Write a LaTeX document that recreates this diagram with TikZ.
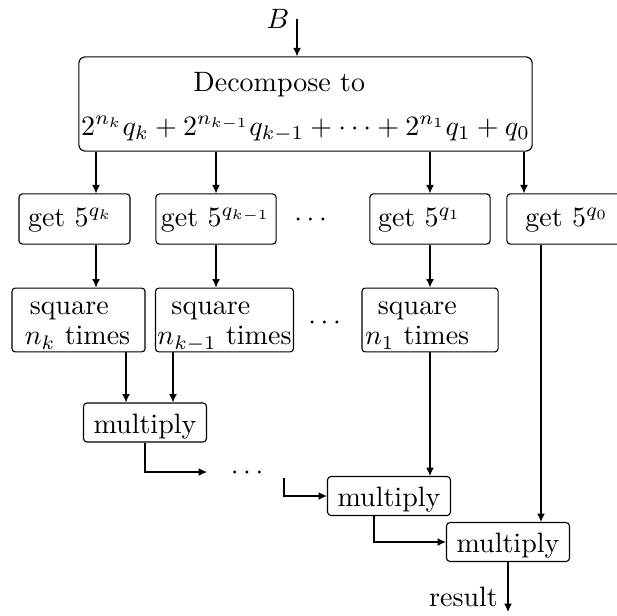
\documentclass[tikz,border=0pt]{standalone}
\usepackage{amsmath,amssymb}
\usetikzlibrary{arrows.meta}

\tikzset{
  box/.style={draw, rounded corners=1.2pt, inner sep=0pt},
  getbox/.style={box, text height=11.8pt, text depth=6.1pt, align=left},
  sqbox/.style={box, align=left},
  mulbox/.style={box, inner xsep=3.6pt, text height=10.7pt, text depth=3.2pt},
}

\begin{document}
\begin{tikzpicture}[x=0.357pt, y=-0.357pt, >={Latex[length=3pt,width=2.8pt]}]
  \clip (0,0) rectangle (617,615);
  % input
  \node (B) at (278,19) {$B$};
  \coordinate (bin) at (297,19);
  % decomposition
  \node[box, rounded corners=2.2pt, minimum width=161.8pt, align=center] (dec) at (305.5,104)
    {\rule{0pt}{12.5pt}\makebox[80pt][l]{Decompose to}\\[3.4pt]
     $2^{n_k}q_k+2^{n_{k-1}}q_{k-1}+\cdots+2^{n_1}q_1+q_0$\rule[-5.7pt]{0pt}{5.7pt}};
  % lanes
  \coordinate (colk) at (96,0);
  \coordinate (colkm) at (216,0);
  \coordinate (colone) at (430,0);
  \coordinate (colzero) at (524,0);
  \coordinate (la) at (126,0);
  \coordinate (lb) at (173,0);
  \coordinate (lc) at (541,0);
  \coordinate (ld) at (374,0);
  % powers of 5
  \node[getbox, inner xsep=3.2pt, text width=33.2pt] (getk) at (74.5,219) {get $5^{q_k}$};
  \node[getbox, inner xsep=1.8pt, text width=39.3pt] (getkm) at (216,219) {get $5^{q_{k-1}}$};
  \node (dotsa) at (313,220) {$\cdots$};
  \node[getbox, inner xsep=2.9pt, text width=37.1pt] (getone) at (430,219) {get $5^{q_1}$};
  \node[getbox, minimum width=42.9pt, align=center] (getzero) at (567,219) {get $5^{q_0}$};
  % squaring
  \node[sqbox, inner xsep=4.6pt, text width=38.3pt] (sqk) at (78.5,320)
    {\rule{0pt}{9.6pt}\hspace*{1.8pt}square\\[-1.3pt]$n_k$ times\rule[-2.5pt]{0pt}{2.5pt}};
  \node[sqbox, inner xsep=0.7pt, minimum width=48.9pt] (sqkm) at (224.5,320)
    {\rule{0pt}{9.6pt}\hspace*{5pt}square\\[-1.3pt]$n_{k-1}$ times\rule[-2.5pt]{0pt}{2.5pt}};
  \node (dotsb) at (327,323) {$\cdots$};
  \node[sqbox, inner xsep=1.1pt, text width=46.4pt] (sqone) at (430,320)
    {\rule{0pt}{9.6pt}\hspace*{4.6pt}square\\[-1.3pt]$n_1$ times\rule[-2.5pt]{0pt}{2.5pt}};
  % multiplying
  \node[mulbox] (mula) at (145,422.5) {multiply};
  \node (dotsc) at (249.5,473) {$\cdots$};
  \coordinate (ina) at (207,472);
  \coordinate (outa) at (284,478);
  \node[mulbox] (mulb) at (389,496) {multiply};
  \node[mulbox] (mulc) at (508,542) {multiply};
  % output
  \coordinate (out) at (508,612);
  \node (res) at (463.5,597) {result};
  % arrows
  \draw[->] (bin) -- (dec.north -| bin);
  \draw[->] (dec.south -| colk) -- (getk.north -| colk);
  \draw[->] (dec.south -| colkm) -- (getkm.north -| colkm);
  \draw[->] (dec.south -| colone) -- (getone.north -| colone);
  \draw[->] (dec.south -| colzero) -- (getzero.north -| colzero);
  \draw[->] (getk.south -| colk) -- (sqk.north -| colk);
  \draw[->] (getkm.south -| colkm) -- (sqkm.north -| colkm);
  \draw[->] (getone.south -| colone) -- (sqone.north -| colone);
  \draw[->] (sqk.south -| la) -- (mula.north -| la);
  \draw[->] (sqkm.south -| lb) -- (mula.north -| lb);
  \draw[->] (sqone.south -| colone) -- (mulb.north -| colone);
  \draw[->] (getzero.south -| lc) -- (mulc.north -| lc);
  \draw[->] (mula.south) |- (ina);
  \draw[->] (outa) |- (mulb.west);
  \draw[->] (mulb.south -| ld) |- (mulc.west);
  \draw[->] (mulc.south) -- (out);
\end{tikzpicture}
\end{document}
